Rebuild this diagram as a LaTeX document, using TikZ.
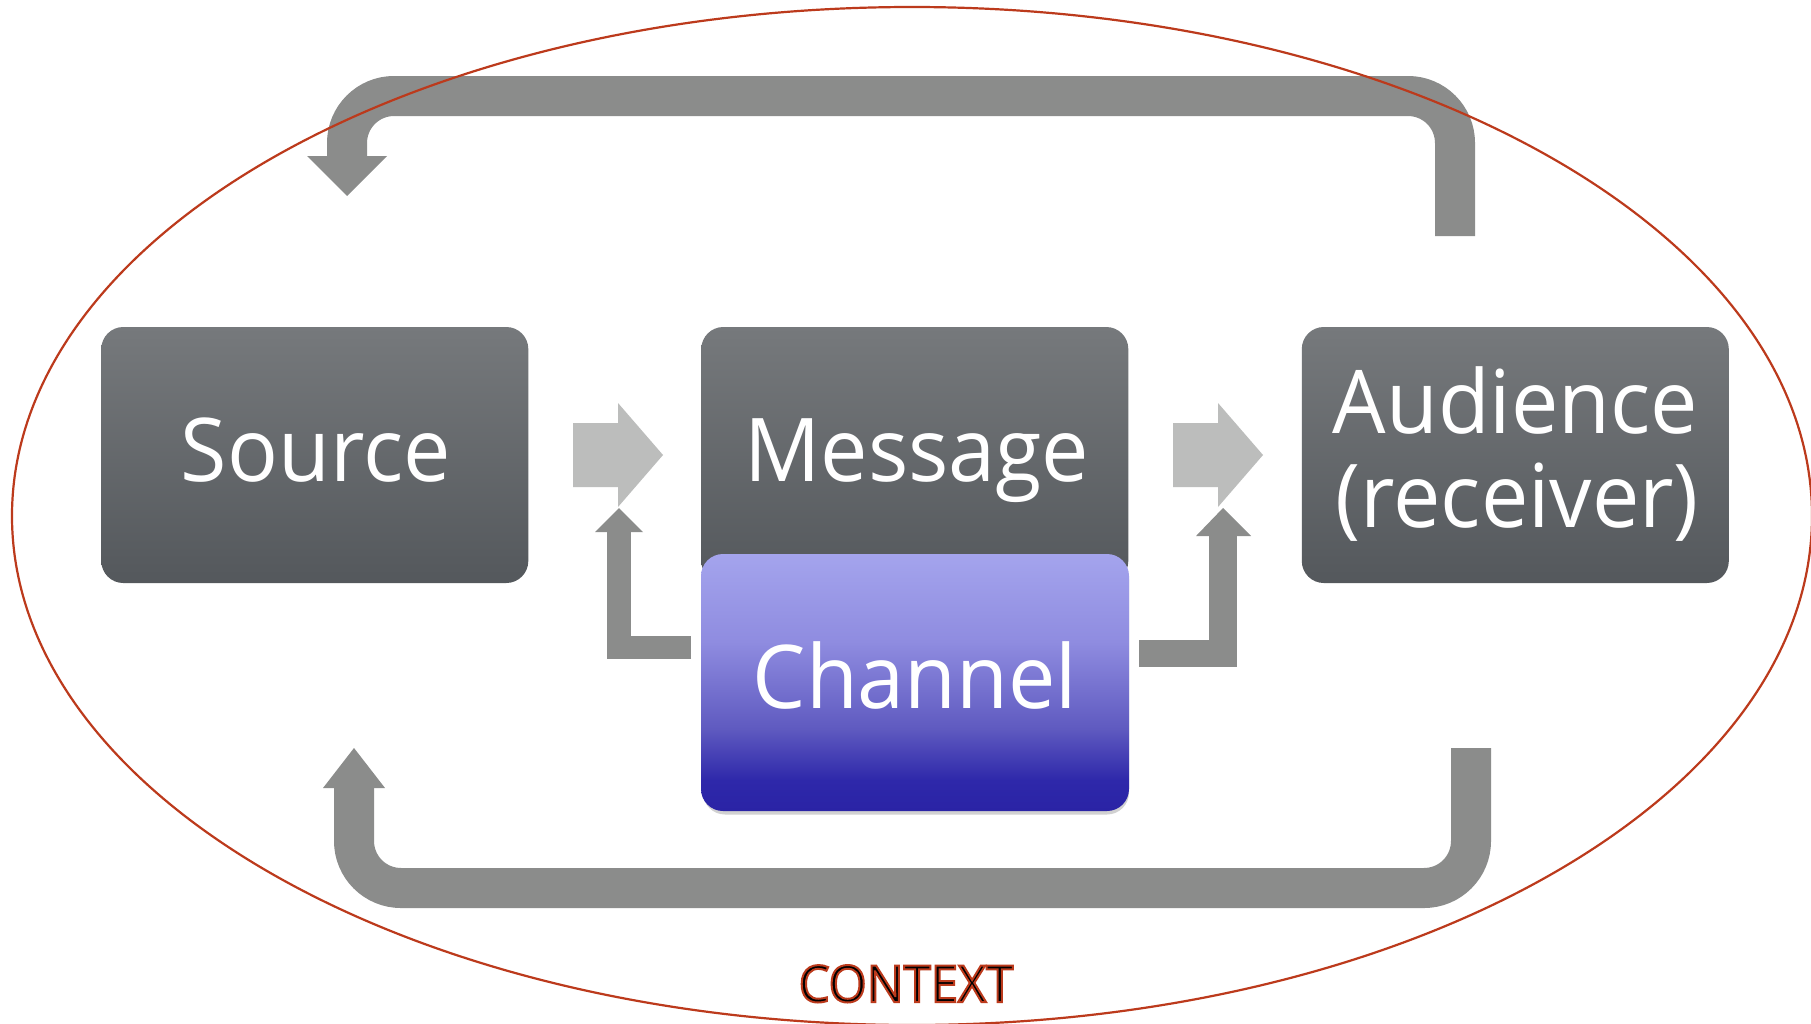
\documentclass[tikz,border=0pt]{standalone}
\usepackage{fontspec}
\setmainfont[FakeStretch=0.96]{Open Sans}
\usetikzlibrary{calc}
\definecolor{boxtop}{RGB}{118,121,124}
\definecolor{boxbot}{RGB}{84,88,92}
\definecolor{arrowdark}{RGB}{139,140,139}
\definecolor{arrowlight}{RGB}{188,189,188}
\definecolor{ctxred}{RGB}{188,58,28}
\definecolor{ch0}{RGB}{164,164,237}
\definecolor{ch1}{RGB}{143,140,224}
\definecolor{ch2}{RGB}{95,90,192}
\definecolor{ch3}{RGB}{46,40,170}
\definecolor{ch4}{RGB}{42,35,165}
\pgfdeclareverticalshading{chanshade}{100bp}{color(0bp)=(ch4); color(25bp)=(ch4); color(31bp)=(ch3); color(41bp)=(ch2); color(58bp)=(ch1); color(75bp)=(ch0); color(100bp)=(ch0)}
\newcommand\outlinedtext[1]{\special{pdf:literal direct 2 Tr 2.0 w 0.737 0.227 0.110 RG}#1\special{pdf:literal direct 0 Tr}}
\tikzset{
  box/.style={rectangle, rounded corners=22pt, minimum width=427pt, minimum height=256pt,
    inner sep=0pt, top color=boxtop, bottom color=boxbot, draw=none},
  chanbox/.style={rectangle, rounded corners=22pt, minimum width=428pt, minimum height=257pt,
    inner sep=0pt, shade, shading=chanshade, draw=none},
  shadowbox/.style={rectangle, rounded corners=22pt, minimum width=426pt, minimum height=257pt,
    inner sep=0pt, fill=black!18, draw=none},
  lbl/.style={text=white, font=\fontsize{88}{94}\selectfont, inner sep=0pt, anchor=base},
  bigarrow/.style={draw=arrowdark, line width=40pt, rounded corners=47pt},
  headfill/.style={fill=arrowdark, draw=none},
  fatarrow/.style={fill=arrowlight, draw=none},
  smallarrow/.style={draw=arrowdark, line join=miter},
  ctxlbl/.style={font=\fontsize{51}{60}\selectfont, text=black, inner sep=0pt, anchor=base}
}
\begin{document}
\begin{tikzpicture}[x=1pt,y=-1pt]
\useasboundingbox (0,0) rectangle (1811,1023);
\fill[white] (0,0) rectangle (1811,1023);
% boxes
\node[box] (src) at (314.8,455) {};
\node[box] (msg) at (914.8,455) {};
\node[box] (aud) at (1515.3,455) {};
\node[shadowbox] (chanshadow) at (916,686) {};
\node[chanbox] (chan) at (915,682.5) {};
% labels
\node[lbl] (srct) at ($(src.center)+(1,26)$) {Source};
\node[lbl] (msgt) at ($(msg.center)+(2,26)$) {Message};
\node[lbl] (aud1) at ($(aud.center)+(0,-22)$) {Audience};
\node[lbl] (aud2) at ($(aud.center)+(2,72)$) {(receiver)};
\node[lbl] (chant) at ($(chan.center)+(0,25.5)$) {Channel};
% fat arrows between boxes
\fill[fatarrow] (573,423) -- (618,423) -- (618,403) -- (663,455) -- (618,507) -- (618,487) -- (573,487) -- cycle;
\fill[fatarrow] (1173,423) -- (1218,423) -- (1218,403) -- (1263,455) -- (1218,507) -- (1218,487) -- (1173,487) -- cycle;
% small feedback arrows from channel
\coordinate (l1) at (691,647.5);
\coordinate (l2) at (619,531);
\draw[smallarrow, line width=23.5pt] (l1) -- (619,647.5) -- (l2);
\fill[headfill] (595,532) -- (643,532) -- (619,508) -- cycle;
\coordinate (r1) at (1139,653.5);
\coordinate (r2) at (1223,535);
\draw[smallarrow, line width=27.5pt] (r1) -- (1223,653.5) -- (r2);
\fill[headfill] (1196,536) -- (1251,536) -- (1223,508) -- cycle;
% big loop arrows
\coordinate (tA) at (1455,236);
\coordinate (tB) at (347,157);
\draw[bigarrow] (tA) -- (1455,96) -- (347,96) -- (tB);
\fill[headfill] (307,156) -- (387,156) -- (347,196) -- cycle;
\coordinate (bA) at (1471,748);
\coordinate (bB) at (354,787);
\draw[bigarrow] (bA) -- (1471,888) -- (354,888) -- (bB);
\fill[headfill] (323,788) -- (385,788) -- (354,748) -- cycle;
% context ellipse
\draw[ctxred, line width=2.2pt] (912,516) ellipse [x radius=900pt, y radius=509pt];
\node[ctxlbl] (ctx) at (906,1002) {\outlinedtext{CONTEXT}};
\end{tikzpicture}
\end{document}
